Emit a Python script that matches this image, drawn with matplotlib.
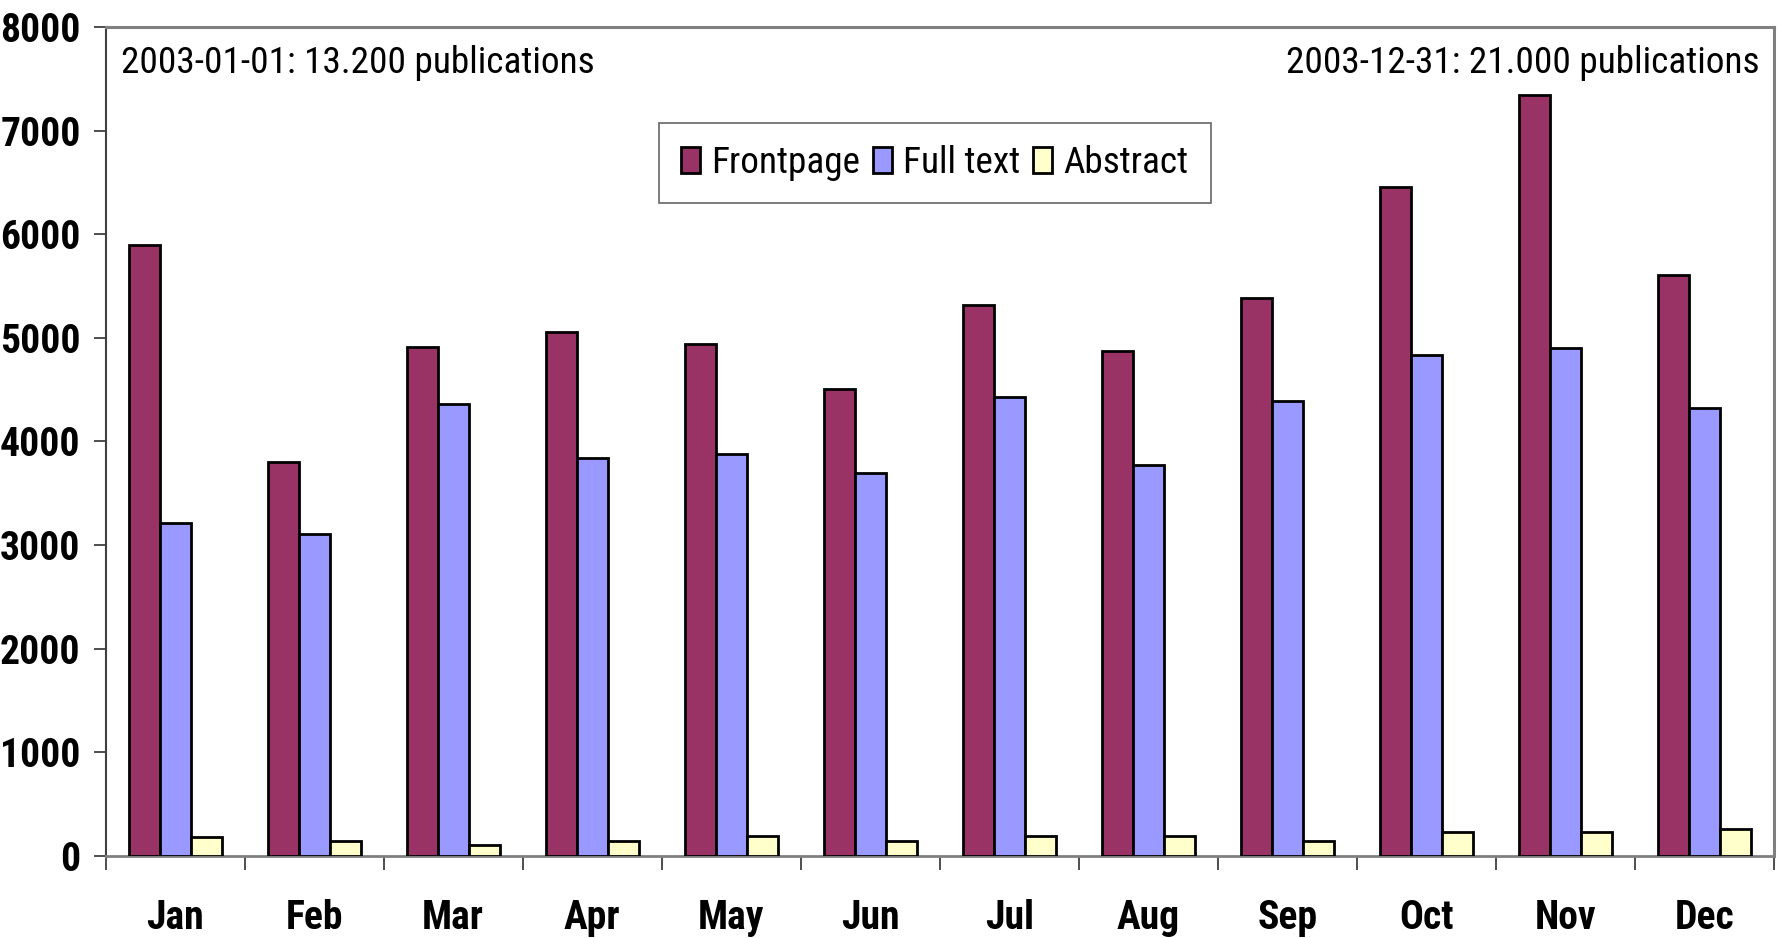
import matplotlib
matplotlib.use("Agg")
import matplotlib.pyplot as plt
from matplotlib import font_manager
import numpy as np

months = ["Jan", "Feb", "Mar", "Apr", "May", "Jun", "Jul", "Aug", "Sep", "Oct", "Nov", "Dec"]
frontpage = [5900, 3800, 4910, 5055, 4945, 4505, 5315, 4870, 5385, 6455, 7340, 5605]
full_text = [3215, 3105, 4360, 3840, 3880, 3695, 4430, 3770, 4392, 4833, 4905, 4320]
abstract = [185, 148, 108, 148, 190, 148, 190, 190, 148, 229, 229, 264]
series_names = ["Frontpage", "Full text", "Abstract"]
y_ticks = [0, 1000, 2000, 3000, 4000, 5000, 6000, 7000, 8000]
note_left = "2003-01-01: 13.200 publications"
note_right = "2003-12-31: 21.000 publications"

def pick_font(cands):
    for c in cands:
        try:
            font_manager.findfont(font_manager.FontProperties(family=c), fallback_to_default=False)
            return c
        except Exception:
            pass
    return "DejaVu Sans"

narrow = pick_font(["Liberation Sans Narrow", "Arial Narrow", "Roboto Condensed", "Liberation Sans"])
plt.rcParams["font.family"] = [narrow, "DejaVu Sans"]

FS_BOLD = 28.5
FS = 26.8
fig = plt.figure(figsize=(17.8, 9.38), dpi=100)
ax = fig.add_axes([105.6 / 1780, 1 - 856 / 938, (1774 - 105.6) / 1780, (856 - 27) / 938])

x = np.arange(len(months))
w = 0.223
colors = ["#993366", "#9999FF", "#FFFFCC"]
for i, (vals, name, col) in enumerate(zip([frontpage, full_text, abstract], series_names, colors)):
    ax.bar(x + (i - 1) * w, vals, width=w, color=col, edgecolor="black", linewidth=2.0,
           label=name, zorder=3)

ax.set_xlim(-0.5, len(months) - 0.5)
ax.set_ylim(0, 8000)
ax.set_yticks(y_ticks)
ax.set_yticklabels([str(v) for v in y_ticks], fontsize=FS_BOLD, fontweight="bold")
ax.tick_params(axis="y", direction="out", length=9, width=1.3, color="#404040", pad=9)

ax.set_xticks(np.arange(len(months) + 1) - 0.5)
ax.set_xticklabels([])
ax.tick_params(axis="x", which="major", direction="out", length=10, width=1.3, color="#404040")
ax.set_xticks(x, minor=True)
ax.set_xticklabels(months, minor=True, fontsize=FS_BOLD, fontweight="bold")
ax.tick_params(axis="x", which="minor", length=0, pad=31)

ax.spines["left"].set_color("#404040")
ax.spines["left"].set_linewidth(1.5)
ax.spines["bottom"].set_color("#808080")
ax.spines["bottom"].set_linewidth(2.0)
ax.spines["top"].set_color("#808080")
ax.spines["top"].set_linewidth(2.2)
ax.spines["right"].set_color("#808080")
ax.spines["right"].set_linewidth(2.2)

ax.text(0.0092, 0.945, note_left, transform=ax.transAxes, fontsize=FS, ha="left", va="baseline")
ax.text(0.9916, 0.945, note_right, transform=ax.transAxes, fontsize=FS, ha="right", va="baseline")

leg = ax.legend(loc="center", bbox_to_anchor=(0.497, 0.836), ncol=3, fontsize=FS,
                frameon=True, fancybox=False, shadow=False, handlelength=0.5,
                handleheight=0.7, handletextpad=0.3, columnspacing=0.35,
                borderpad=0.6, borderaxespad=0)
leg.get_frame().set_edgecolor("#404040")
leg.get_frame().set_linewidth(1.2)

fig.savefig("out.png", dpi=100)
